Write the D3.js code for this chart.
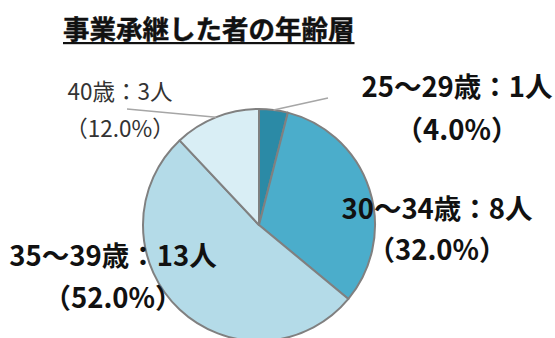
<!DOCTYPE html>
<html><head><meta charset="utf-8">
<script src="https://cdn.jsdelivr.net/npm/d3@7"></script>
<style>
html,body{margin:0;padding:0;background:#fff;}
svg{display:block;font-family:"Noto Sans CJK JP","Noto Sans",sans-serif;}
</style></head>
<body>
<svg id="c" width="555" height="338"></svg>
<script>
const title = "事業承継した者の年齢層";
const categories = ["25～29歳", "30～34歳", "35～39歳", "40歳"];
const counts = [1, 8, 13, 3];
const percents = ["4.0%", "32.0%", "52.0%", "12.0%"];
const colors = ["#2b8aa6", "#4badcb", "#b4dbe8", "#d9eef5"];

const svg = d3.select("#c");
const cx = 259, cy = 225, R = 116;

svg.append("text").attr("x", 63).attr("y", 39)
  .attr("font-size", 26.5).attr("font-weight", 700).attr("fill", "#111")
  .attr("stroke", "#111").attr("stroke-width", 0.4)
  .text(title);
const tw = svg.select("text").node().getComputedTextLength();
svg.append("rect").attr("x", 63).attr("y", 42).attr("width", tw).attr("height", 2.2).attr("fill", "#111");

const pie = d3.pie().sort(null).value(d => d)(counts);
const arc = d3.arc().innerRadius(0).outerRadius(R);
const g = svg.append("g").attr("transform", `translate(${cx},${cy})`);
g.selectAll("path").data(pie).join("path")
  .attr("d", arc).attr("fill", (d, i) => colors[i])
  .attr("stroke", "#808080").attr("stroke-width", 2).attr("stroke-linejoin", "round");

// leader lines for small slices
const edge = d3.arc().innerRadius(R).outerRadius(R);
const leaders = [{i: 0, to: [69, -127]}, {i: 3, to: [-132, -116]}];
leaders.forEach(l => {
  const p = edge.centroid(pie[l.i]);
  g.append("line").attr("x1", p[0]).attr("y1", p[1]).attr("x2", l.to[0]).attr("y2", l.to[1])
    .attr("stroke", "#a6a6a6").attr("stroke-width", 1.5);
});

const labelPos = [
  {x: 457, y: 97, dy: 43, bold: true, size: 27.5},
  {x: 437, y: 219, dy: 41, bold: true, size: 27.5},
  {x: 113, y: 266, dy: 42, bold: true, size: 27.5},
  {x: 120, y: 100, dy: 37, bold: false, size: 22.5}
];
labelPos.forEach((p, i) => {
  const t = svg.append("text").attr("text-anchor", "middle")
    .attr("font-size", p.size).attr("font-weight", p.bold ? 700 : 400)
    .attr("fill", p.bold ? "#111" : "#333");
  t.append("tspan").attr("x", p.x).attr("y", p.y).text(`${categories[i]}：${counts[i]}人`);
  t.append("tspan").attr("x", p.x).attr("y", p.y + p.dy).text(`（${percents[i]}）`);
});
</script>
</body></html>
